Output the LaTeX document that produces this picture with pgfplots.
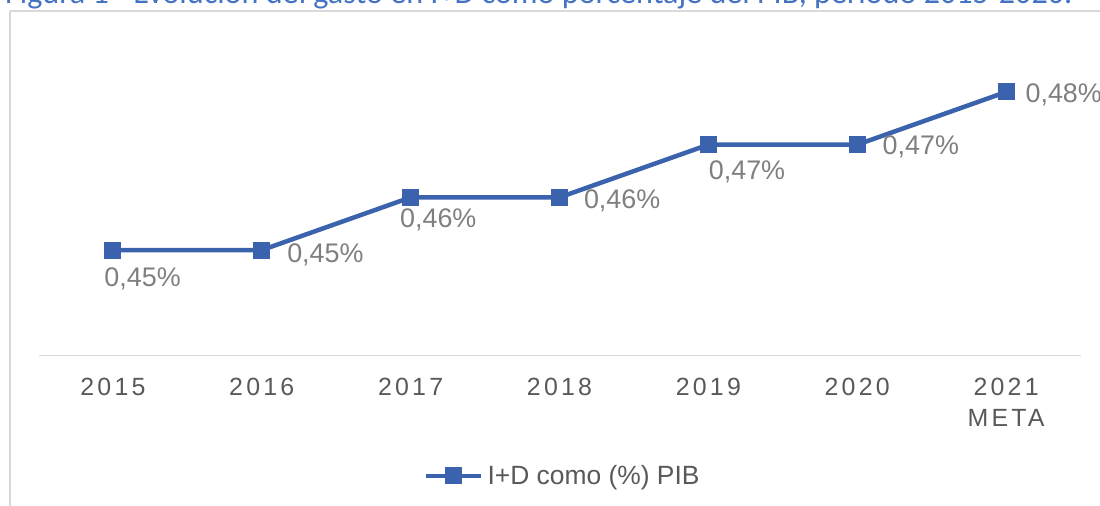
\documentclass[border=0pt]{standalone}
\usepackage{graphicx}
\usepackage{pgfplots}
\pgfplotsset{compat=1.18}
\usepackage{fontspec}
\setmainfont{Liberation Sans}
\newfontfamily\titlefont{Carlito}
\definecolor{lineblue}{HTML}{3A62AD}
\definecolor{titleblue}{HTML}{4472C4}
\definecolor{framegray}{HTML}{D9D9D9}
\definecolor{labgray}{HTML}{7F7F7F}
\definecolor{tickgray}{HTML}{595959}
\begin{document}
\begin{tikzpicture}[x=1bp,y=1bp]
\useasboundingbox (0,0) rectangle (1100,506);
\clip (0,0) rectangle (1100,506);
\draw[framegray, line width=1.8bp] (10,495) -- (1120,495) (10,495) -- (10,-10);
\node[anchor=base west, inner sep=0pt, text=titleblue] at (5,502.5) {\resizebox{1067bp}{!}{\titlefont Figura 1 - Evolución del gasto en I+D como porcentaje del PIB, periodo 2015-2020.}};
\begin{axis}[
 at={(38.5bp,150.5bp)}, anchor=south west, scale only axis,
 width=1042bp, height=316.2bp,
 xmin=-0.5, xmax=6.5, ymin=0.43, ymax=0.49,
 axis x line=bottom, axis y line=none,
 x axis line style={-, draw=framegray, line width=1.5bp},
 xtick={0,...,6},
 xticklabels={2015,2016,2017,2018,2019,2020,{2021\\META}},
 major tick length=0pt, ytick=\empty,
 xticklabel style={anchor=north, inner sep=0pt, yshift=-22bp, align=center, text=tickgray,
   font=\fontsize{25}{32}\selectfont\addfontfeature{LetterSpace=13}},
 clip=false,
 legend style={at={(0.3700,-0.381)}, anchor=west, draw=none, fill=none,
   inner sep=0pt, outer sep=0pt, column sep=4bp,
   font=\fontsize{26.5}{30}\selectfont, text=tickgray, nodes={inner sep=0pt}},
 legend image code/.code={\draw[#1, mark repeat=2, mark phase=2] plot coordinates {(0bp,0bp)(27.5bp,0bp)(55bp,0bp)};},
]
\addplot[lineblue, line width=4.5bp, mark=square*, mark size=8bp,
  mark options={solid, line width=1bp},
  point meta=\thisrow{y},
  visualization depends on={\thisrow{dx}\as\dx},
  visualization depends on={\thisrow{dy}\as\dy},
  nodes near coords={\pgfmathprintnumber[fixed,fixed zerofill,precision=2,use comma,assume math mode=true]{\pgfplotspointmeta}\%},
  nodes near coords style={anchor=base west, inner sep=0pt, xshift=\dx bp, yshift=\dy bp, text=labgray, font=\fontsize{27}{30}\selectfont},
] table {
x y dx dy
0 0.45 -9 -36
1 0.45 25 -12
2 0.46 -11 -30
3 0.46 24 -11
4 0.47 0 -35
5 0.47 25 -10
6 0.48 19 -11
};
\addlegendentry{I+D como (\%) PIB}
\end{axis}
\end{tikzpicture}
\end{document}
